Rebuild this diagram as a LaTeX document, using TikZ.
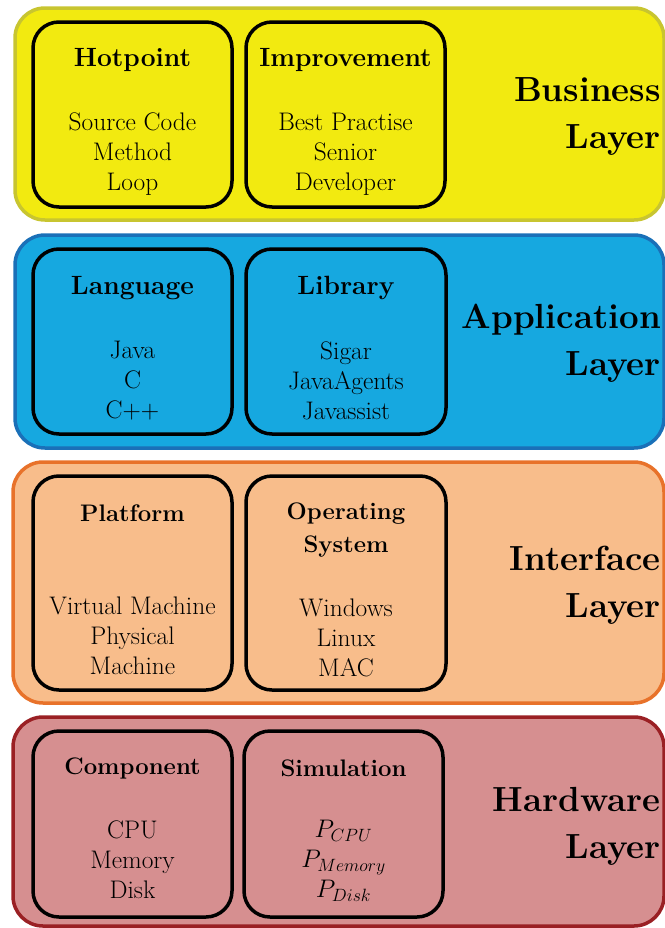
\documentclass[tikz,border=0pt]{standalone}
\usepackage{fix-cm}
\usepackage{fontspec}
\definecolor{busfill}{HTML}{F2EA10}
\definecolor{busdraw}{HTML}{C8C530}
\definecolor{appfill}{HTML}{16A8E0}
\definecolor{appdraw}{HTML}{1A70B8}
\definecolor{intfill}{HTML}{F8BD8B}
\definecolor{intdraw}{HTML}{E8722A}
\definecolor{hwfill}{HTML}{D68F90}
\definecolor{hwdraw}{HTML}{9A2024}
\begin{document}
\begin{tikzpicture}[x=1bp,y=-1bp,
  layerbox/.style={draw=#1draw, fill=#1fill, line width=3.5bp, rounded corners=30bp},
  innerbox/.style={draw=black, line width=3.5bp, rounded corners=26bp},
  titlebig/.style={font=\fontsize{26.5}{34}\selectfont\bfseries, align=center, inner sep=0pt},
  titlesmall/.style={font=\fontsize{24}{34}\selectfont\bfseries, align=center, inner sep=0pt},
  bodytext/.style={font=\fontsize{25.5}{30}\selectfont, align=center, inner sep=0pt},
  layerlabel/.style={font=\fontsize{35}{47}\selectfont\bfseries, align=right, anchor=east, inner sep=0pt}]
\useasboundingbox (0,0) rectangle (665,928);
\clip (0,0) rectangle (665,928);

% Business layer
\path[layerbox=bus] (15,8) rectangle (664,220);
\draw[innerbox] (33,22) rectangle (232,207);
\draw[innerbox] (246,22) rectangle (445,207);
\node[titlebig] (hot) at (132.5,60) {Hotpoint};
\node[bodytext] (hotb) at (132.5,154) {Source Code\\Method\\Loop};
\node[titlebig] (imp) at (345.5,60) {Improvement};
\node[bodytext] (impb) at (345.5,154) {Best Practise\\Senior\\Developer};
\node[layerlabel] (bus) at (661,116.5) {Business\\Layer};

% Application layer
\path[layerbox=app] (15,235) rectangle (664,448);
\draw[innerbox] (33,249) rectangle (232,434);
\draw[innerbox] (246,249) rectangle (446,434);
\node[titlebig] (lang) at (132.5,288) {Language};
\node[bodytext] (langb) at (132.5,381) {Java\\C\\C++};
\node[titlebig] (lib) at (346,288) {Library};
\node[bodytext] (libb) at (346,381) {Sigar\\JavaAgents\\Javassist};
\node[layerlabel] (app) at (661,343.5) {Application\\Layer};

% Interface layer
\path[layerbox=int] (13,462) rectangle (664,703);
\draw[innerbox] (33,476) rectangle (232,690);
\draw[innerbox] (246,476) rectangle (446,690);
\node[titlesmall] (plat) at (132.5,513) {Platform};
\node[bodytext] (platb) at (132.5,636) {Virtual Machine\\Physical\\Machine};
\node[titlesmall] (os) at (346,530) {Operating\\System};
\node[bodytext] (osb) at (346,638) {Windows\\Linux\\MAC};
\node[layerlabel] (int) at (661,585) {Interface\\Layer};

% Hardware layer
\path[layerbox=hw] (13,717) rectangle (664,926);
\draw[innerbox] (33,731) rectangle (232,917);
\draw[innerbox] (244,731) rectangle (443,917);
\node[titlesmall] (comp) at (132.5,768) {Component};
\node[bodytext] (compb) at (132.5,860) {CPU\\Memory\\Disk};
\node[titlesmall] (sim) at (343.5,768) {Simulation};
\node[bodytext] (simb) at (343.5,861) {$P_{CPU}$\\$P_{Memory}$\\$P_{Disk}$};
\node[layerlabel] (hw) at (661,826) {Hardware\\Layer};
\end{tikzpicture}
\end{document}
